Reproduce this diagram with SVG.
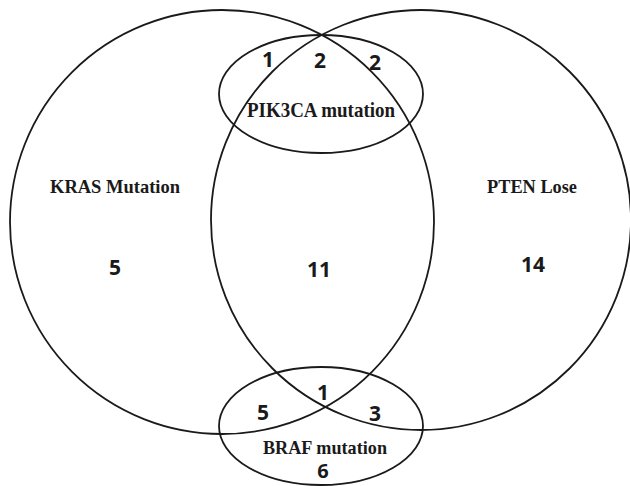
<svg xmlns="http://www.w3.org/2000/svg" width="630" height="486" viewBox="0 0 630 486">
<style>
.shape{fill:none;stroke:#1a1a1a;stroke-width:1.8}
.lbl{font-family:"Liberation Serif","Times New Roman",serif;font-weight:bold;font-size:19.5px;fill:#1a1a1a}
.num{font-family:"Open Sans","Liberation Sans",sans-serif;font-weight:bold;font-size:21px;fill:#1a1a1a;text-anchor:middle}
</style>
<rect width="630" height="486" fill="#ffffff"/>
<g id="kras">
<circle class="shape" cx="222" cy="222" r="212"/>
<text class="lbl" x="50" y="193" textLength="130" lengthAdjust="spacingAndGlyphs">KRAS Mutation</text>
<text class="num" x="115" y="275">5</text>
</g>
<g id="pten">
<circle class="shape" cx="421" cy="220" r="210"/>
<text class="lbl" x="487" y="193" textLength="90" lengthAdjust="spacingAndGlyphs">PTEN Lose</text>
<text class="num" x="533" y="272">14</text>
</g>
<g id="kras-pten">
<text class="num" x="319" y="277">11</text>
</g>
<g id="pik3ca">
<ellipse class="shape" cx="321" cy="94" rx="102" ry="59"/>
<text class="lbl" x="247" y="117" style="font-size:21.5px" textLength="148" lengthAdjust="spacingAndGlyphs">PIK3CA  mutation</text>
<text class="num" x="268" y="67">1</text>
<text class="num" x="320" y="68">2</text>
<text class="num" x="375" y="70">2</text>
</g>
<g id="braf">
<ellipse class="shape" cx="321" cy="426" rx="102" ry="59"/>
<text class="lbl" x="263" y="454" textLength="124" lengthAdjust="spacingAndGlyphs">BRAF mutation</text>
<text class="num" x="323" y="400">1</text>
<text class="num" x="263" y="420">5</text>
<text class="num" x="375" y="421">3</text>
<text class="num" x="323" y="478" style="font-size:20px">6</text>
</g>
<g id="connectors"/>
</svg>
